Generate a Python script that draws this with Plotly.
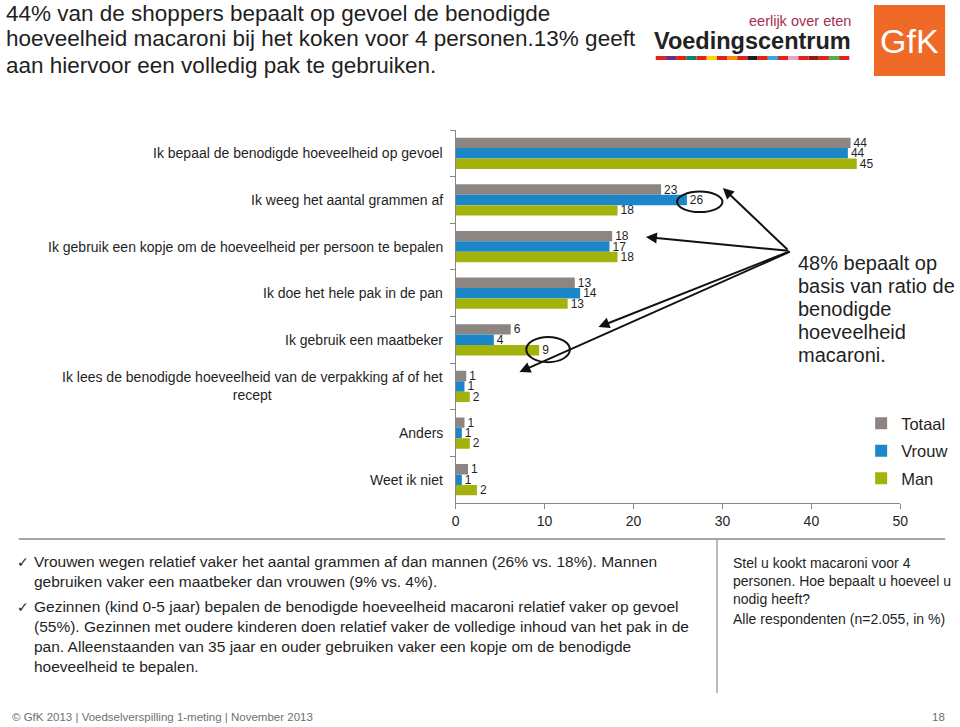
import plotly.graph_objects as go

W, H = 960, 727

# ---------------- data ----------------
categories = [
    "Ik bepaal de benodigde hoeveelheid op gevoel",
    "Ik weeg het aantal grammen af",
    "Ik gebruik een kopje om de hoeveelheid per persoon te bepalen",
    "Ik doe het hele pak in de pan",
    "Ik gebruik een maatbeker",
    "Ik lees de benodigde hoeveelheid van de verpakking af of het<br>recept",
    "Anders",
    "Weet ik niet",
]
series_names = ["Totaal", "Vrouw", "Man"]
totaal = [44.4, 23.1, 17.6, 13.4, 6.2, 1.2, 1.0, 1.4]
vrouw = [44.1, 26.0, 17.3, 14.0, 4.3, 1.0, 0.7, 0.7]
man = [45.1, 18.2, 18.2, 12.6, 9.4, 1.6, 1.6, 2.4]
x_ticks = [0, 10, 20, 30, 40, 50]

title_lines = [
    "44% van de shoppers bepaalt op gevoel de benodigde",
    "hoeveelheid macaroni bij het koken voor 4 personen.13% geeft",
    "aan hiervoor een volledig pak te gebruiken.",
]
callout_lines = ["48% bepaalt op", "basis van ratio de", "benodigde", "hoeveelheid", "macaroni."]
bullet_texts = [
    "Vrouwen wegen relatief vaker het aantal grammen af dan mannen (26% vs. 18%). Mannen<br>"
    "gebruiken vaker een maatbeker dan vrouwen (9% vs. 4%).",
    "Gezinnen (kind 0-5 jaar) bepalen de benodigde hoeveelheid macaroni relatief vaker op gevoel<br>"
    "(55%). Gezinnen met oudere kinderen doen relatief vaker de volledige inhoud van het pak in de<br>"
    "pan. Alleenstaanden van 35 jaar en ouder gebruiken vaker een kopje om de benodigde<br>"
    "hoeveelheid te bepalen.",
]
question_text = "Stel u kookt macaroni voor 4<br>personen. Hoe bepaalt u hoeveel u<br>nodig heeft?"
base_text = "Alle respondenten (n=2.055, in %)"
footer_text = "© GfK 2013 | Voedselverspilling 1-meting | November 2013"
page_no = "18"

# ---------------- styles ----------------
colors = ["#8C8582", "#1B86C8", "#A3B30C"]
FONT = "Arial, Liberation Sans, sans-serif"
TXT = "#1f1f1f"
AX = "#868686"


def px(x):
    return x / W


def py(y):
    return 1 - y / H


fig = go.Figure()
for name, vals, col in zip(series_names, [totaal, vrouw, man], colors):
    fig.add_trace(go.Bar(
        name=name, y=categories, x=vals, orientation="h", legendgroup=name,
        marker=dict(color=col, line=dict(width=0)),
        texttemplate="%{x:.0f}", textposition="outside",
        textfont=dict(size=12, color=TXT, family=FONT),
        constraintext="none", cliponaxis=False,
    ))

annotations = []
shapes = []

# category labels (centered multi-line like the original)
for c in categories:
    annotations.append(dict(
        x=px(447), xref="paper", y=c, yref="y", text=c, showarrow=False,
        xanchor="right", yanchor="middle", align="center",
        font=dict(size=14, color=TXT, family=FONT)))

# title
for i, t in enumerate(title_lines):
    annotations.append(dict(
        x=px(0), y=py(13 + 26 * i), xref="paper", yref="paper", text=t,
        showarrow=False, xanchor="left", yanchor="middle",
        font=dict(size=22.5, color=TXT, family=FONT)))

# callout text
for i, t in enumerate(callout_lines):
    annotations.append(dict(
        x=px(802), y=py(263 + 23 * i), xref="paper", yref="paper", text=t,
        showarrow=False, xanchor="left", yanchor="middle",
        font=dict(size=20, color=TXT, family=FONT)))

# arrows
tail = (794, 251)
for hx, hy in [(728, 188), (650, 237), (602, 327), (522, 372)]:
    annotations.append(dict(
        x=px(hx), y=py(hy), xref="paper", yref="paper", text="",
        showarrow=True, arrowhead=2, arrowsize=1.1, arrowwidth=2,
        arrowcolor="#111111", ax=tail[0] - hx, ay=tail[1] - hy, standoff=0))

# ellipses around highlighted values
shapes.append(dict(type="circle", xref="x", yref="y",
                   x0=vrouw[1] - 1.1, x1=vrouw[1] + 4.0, y0=0.82, y1=1.26,
                   line=dict(color="#111111", width=2)))
shapes.append(dict(type="circle", xref="x", yref="y",
                   x0=man[4] - 1.45, x1=man[4] + 3.45, y0=3.94, y1=4.48,
                   line=dict(color="#111111", width=2)))

# bottom bullet texts
for top, t in zip([562, 607], bullet_texts):
    annotations.append(dict(
        x=px(11), y=py(top), xref="paper", yref="paper", text="✓",
        showarrow=False, xanchor="left", yanchor="middle",
        font=dict(size=14, color=TXT, family="DejaVu Sans")))
    annotations.append(dict(
        x=px(28), y=py(top - 11), xref="paper", yref="paper", text=t,
        showarrow=False, xanchor="left", yanchor="top", align="left",
        font=dict(size=15.5, color=TXT, family=FONT)))

annotations.append(dict(
    x=px(736), y=py(553), xref="paper", yref="paper", text=question_text,
    showarrow=False, xanchor="left", yanchor="top", align="left",
    font=dict(size=14, color=TXT, family=FONT)))
annotations.append(dict(
    x=px(736), y=py(619), xref="paper", yref="paper", text=base_text,
    showarrow=False, xanchor="left", yanchor="middle", align="left",
    font=dict(size=14, color=TXT, family=FONT)))

# footer
annotations.append(dict(
    x=px(6), y=py(717), xref="paper", yref="paper", text=footer_text,
    showarrow=False, xanchor="left", yanchor="middle",
    font=dict(size=11.5, color="#707070", family=FONT)))
annotations.append(dict(
    x=px(955), y=py(717), xref="paper", yref="paper", text=page_no,
    showarrow=False, xanchor="right", yanchor="middle",
    font=dict(size=11.5, color="#707070", family=FONT)))

# separators
shapes.append(dict(type="line", xref="paper", yref="paper",
                   x0=px(15), x1=px(953), y0=py(539), y1=py(539),
                   line=dict(color="#A6A6A6", width=2)))
shapes.append(dict(type="line", xref="paper", yref="paper",
                   x0=px(722), x1=px(722), y0=py(539), y1=py(693),
                   line=dict(color="#A6A6A6", width=1.5)))

# Voedingscentrum logo
annotations.append(dict(
    x=px(860), y=py(21), xref="paper", yref="paper", text="eerlijk over eten",
    showarrow=False, xanchor="right", yanchor="middle",
    font=dict(size=14.5, color="#A4304C", family=FONT)))
annotations.append(dict(
    x=px(860), y=py(41), xref="paper", yref="paper", text="<b>Voedingscentrum</b>",
    showarrow=False, xanchor="right", yanchor="middle",
    font=dict(size=23.5, color="#222222", family=FONT)))
stripe = ["#E2231A", "#6A2C8E", "#E2231A", "#00856F", "#E2231A", "#FFD500", "#E2231A",
          "#F39200", "#E2231A", "#1D1D1B", "#E2231A", "#36A9E1", "#E2231A", "#E7A5C9",
          "#E2231A", "#8B1A1A", "#E2231A", "#4CAF50", "#E2231A"]
seg = (856 - 660) / len(stripe)
for i, c in enumerate(stripe):
    shapes.append(dict(type="rect", xref="paper", yref="paper",
                       x0=px(660 + i * seg), x1=px(660 + (i + 1) * seg),
                       y0=py(60), y1=py(56), fillcolor=c, line=dict(width=0)))

# GfK logo
shapes.append(dict(type="rect", xref="paper", yref="paper",
                   x0=px(881), x1=px(953), y0=py(76), y1=py(5),
                   fillcolor="#EF6A27", line=dict(width=0)))
annotations.append(dict(
    x=px(917), y=py(41), xref="paper", yref="paper", text="GfK",
    showarrow=False, xanchor="center", yanchor="middle",
    font=dict(size=34, color="white", family=FONT)))

fig.update_layout(
    width=W, height=H, autosize=False,
    margin=dict(l=0, r=0, t=0, b=0, pad=0),
    paper_bgcolor="white", plot_bgcolor="white",
    barmode="group", bargap=0.33, bargroupgap=0,
    font=dict(family=FONT, color=TXT),
    showlegend=True,
    legend=dict(x=px(868), y=py(406), xanchor="left", yanchor="top",
                orientation="v", traceorder="grouped", tracegroupgap=3,
                font=dict(size=16.5, color=TXT, family=FONT),
                bgcolor="rgba(0,0,0,0)"),
    xaxis=dict(domain=[px(457.3), px(907.7)], range=[0, 50], tickvals=x_ticks,
               showgrid=False, zeroline=False, showline=True, linecolor=AX, linewidth=1,
               ticks="outside", ticklen=5, tickcolor=AX,
               tickfont=dict(size=14, color=TXT, family=FONT)),
    yaxis=dict(domain=[py(503), py(130)], type="category", autorange="reversed",
               showgrid=False, zeroline=False, showline=True, linecolor=AX, linewidth=1,
               ticks="outside", ticklen=5, tickcolor=AX, tickson="boundaries",
               showticklabels=False),
    annotations=annotations, shapes=shapes,
)

fig.write_html("out.html")
